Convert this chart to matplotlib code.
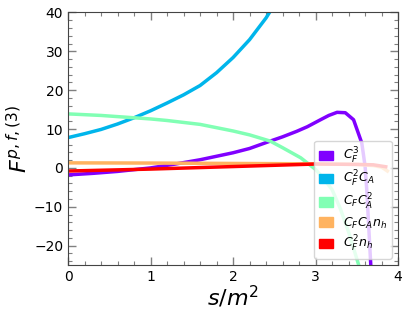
import numpy as np
import matplotlib.pyplot as plt
from matplotlib.patches import Patch

# C_F^3
s_cf3 = [0.0, 0.3, 0.6, 1.0, 1.3, 1.6, 2.0, 2.2, 2.45, 2.6, 2.77, 2.9, 3.06, 3.16, 3.26, 3.36, 3.46, 3.56, 3.6, 3.62, 3.67]
f_cf3 = [-1.8, -1.4, -0.9, 0.0, 1.0, 2.1, 3.9, 5.0, 6.9, 8.0, 9.4, 10.6, 12.4, 13.5, 14.3, 14.2, 12.4, 6.4, 0.4, -5.6, -25.5]

# C_F^2 C_A
s_cf2ca = [0.0, 0.2, 0.4, 0.6, 0.8, 1.0, 1.2, 1.4, 1.6, 1.8, 2.0, 2.2, 2.4, 2.5]
f_cf2ca = [7.8, 8.8, 9.9, 11.3, 12.9, 14.7, 16.7, 18.8, 21.2, 24.5, 28.4, 33.0, 38.6, 42.0]

# C_F C_A^2
s_cfca2 = [0.0, 0.4, 0.8, 1.0, 1.2, 1.6, 2.0, 2.2, 2.45, 2.6, 2.82, 3.0, 3.1, 3.2, 3.3, 3.4, 3.53]
f_cfca2 = [13.9, 13.5, 12.9, 12.6, 12.2, 11.2, 9.5, 8.5, 6.9, 5.2, 2.6, -0.4, -2.8, -5.6, -10.5, -16.5, -25.5]

# C_F C_A n_h
s_cfcanh = [0.0, 1.0, 2.0, 3.0, 3.5, 3.7, 3.8, 3.87]
f_cfcanh = [1.3, 1.25, 1.15, 1.05, 0.9, 0.6, 0.2, -0.8]

# C_F^2 n_h
s_cf2nh = [0.0, 1.0, 2.0, 3.0, 3.5, 3.7, 3.85]
f_cf2nh = [-0.8, -0.3, 0.35, 1.0, 0.9, 0.8, 0.3]

labels = [r'$C_F^3$', r'$C_F^2C_A$', r'$C_FC_A^2$', r'$C_FC_An_h$', r'$C_F^2n_h$']
series = [(s_cf3, f_cf3), (s_cf2ca, f_cf2ca), (s_cfca2, f_cfca2),
          (s_cfcanh, f_cfcanh), (s_cf2nh, f_cf2nh)]
colors = plt.cm.rainbow(np.linspace(0, 1, len(series)))

fig = plt.figure(figsize=(4.1, 3.19), dpi=100)
ax = fig.add_axes([0.166, 0.169, 0.805, 0.792])

for (s, f), c in zip(series, colors):
    ax.plot(s, f, color=c, lw=2.5)

ax.set_xlim(0, 4)
ax.set_ylim(-25, 40)
ax.set_xticks([0, 1, 2, 3, 4])
ax.set_yticks([-20, -10, 0, 10, 20, 30, 40])
ax.minorticks_on()
ax.tick_params(which='both', direction='in', top=True, right=True, color='gray', labelsize=10)
ax.tick_params(which='major', length=6, width=1)
ax.tick_params(which='minor', length=3, width=0.8)
for sp in ax.spines.values():
    sp.set_color('#444444')

ax.set_xlabel(r'$s/m^2$', fontsize=16, labelpad=0)
ax.set_ylabel(r'$F^{p,f,(3)}$', fontsize=16, labelpad=2)

handles = [Patch(color=c) for c in colors]
ax.legend(handles, labels, loc='lower right', fontsize=9, handlelength=1.1,
          handleheight=0.8, labelspacing=0.25, handletextpad=0.8, framealpha=0.8)

fig.savefig('out.png', dpi=100)
